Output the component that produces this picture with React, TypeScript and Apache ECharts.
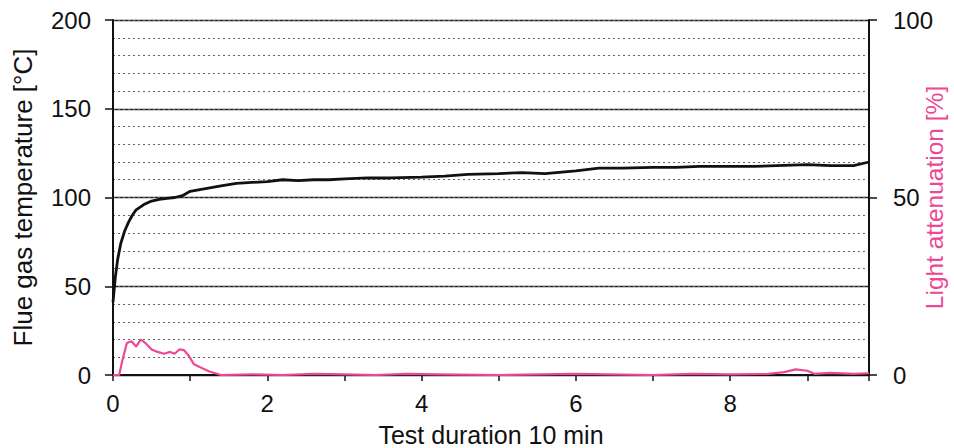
import React, { useEffect, useRef } from "react";
import * as echarts from "echarts";

const tempX = [0, 0.03, 0.06, 0.1, 0.15, 0.2, 0.25, 0.3, 0.4, 0.5, 0.6, 0.7, 0.8, 0.9, 1.0, 1.2, 1.4, 1.6, 1.8, 2.0, 2.2, 2.4, 2.6, 2.8, 3.0, 3.3, 3.6, 4.0, 4.3, 4.6, 5.0, 5.3, 5.6, 6.0, 6.3, 6.6, 7.0, 7.3, 7.6, 8.0, 8.3, 8.6, 9.0, 9.3, 9.6, 9.8];
const tempY = [41, 55, 65, 74, 81, 86, 90, 93, 96, 98, 99, 99.5, 100, 101, 103.5, 105, 106.5, 108, 108.5, 109, 110, 109.5, 110, 110, 110.5, 111, 111, 111.5, 112, 113, 113.5, 114, 113.5, 115, 116.5, 116.5, 117, 117, 117.5, 117.5, 117.5, 118, 118.5, 118, 118, 120];

const lightX = [0, 0.08, 0.12, 0.18, 0.24, 0.3, 0.36, 0.42, 0.5, 0.58, 0.66, 0.74, 0.8, 0.86, 0.92, 0.98, 1.05, 1.15, 1.25, 1.4, 1.8, 2.2, 2.6, 3.0, 3.4, 3.8, 4.2, 5, 6, 7, 7.5, 8, 8.5, 8.7, 8.85, 9.0, 9.1, 9.3, 9.6, 9.8];
const lightY = [0, 0, 4, 9, 9.5, 8, 10, 9, 7.2, 6.5, 6, 6.5, 6, 7.2, 7, 5.5, 3, 2, 1, 0, 0.2, 0, 0.3, 0.2, 0, 0.3, 0.2, 0, 0.3, 0, 0.3, 0.2, 0.3, 0.8, 1.6, 1.2, 0.3, 0.6, 0.3, 0.5];

const xMin = 0;
const xMax = 9.8;
const leftMax = 200;
const rightMax = 100;

const PINK = "#ec4894";
const FONT = "Liberation Sans, Arial, sans-serif";

export default function App() {
  const ref = useRef<HTMLDivElement>(null);
  useEffect(() => {
    if (!ref.current) return;
    const chart = echarts.init(ref.current, undefined, { renderer: "svg" });
    chart.setOption({
      animation: false,
      backgroundColor: "#ffffff",
      grid: {
        left: 113,
        right: 85,
        top: 20,
        bottom: 73,
        containLabel: false,
        outerBoundsMode: "none",
      },
      xAxis: {
        type: "value",
        min: xMin,
        max: xMax,
        interval: 1,
        name: "Test duration 10 min",
        nameLocation: "middle",
        nameGap: 47,
        nameMoveOverlap: false,
        nameTextStyle: { fontSize: 25, color: "#111", fontFamily: FONT },
        axisLine: { show: true, lineStyle: { color: "#111", width: 2 } },
        axisTick: { show: true, inside: false, length: 6, lineStyle: { color: "#111", width: 1.5 } },
        axisLabel: {
          fontSize: 24,
          color: "#111",
          fontFamily: FONT,
          margin: 16,
          formatter: (v: number) => (Number.isInteger(v) && v % 2 === 0 ? String(v) : ""),
        },
        splitLine: { show: false },
      },
      yAxis: [
        {
          type: "value",
          position: "left",
          min: 0,
          max: leftMax,
          interval: 50,
          name: "Flue gas temperature [°C]",
          nameLocation: "middle",
          nameRotate: 90,
          nameGap: 77,
          nameMoveOverlap: false,
          nameTextStyle: { fontSize: 26, color: "#111", fontFamily: FONT },
          axisLine: { show: true, lineStyle: { color: "#111", width: 2 } },
          axisTick: { show: true, inside: false, length: 8, lineStyle: { color: "#111", width: 1.5 } },
          axisLabel: { fontSize: 24, color: "#111", fontFamily: FONT, margin: 22 },
          splitLine: { show: true, lineStyle: { color: "#222", width: 1.3, type: "solid" } },
        },
        {
          type: "value",
          position: "right",
          min: 0,
          max: rightMax,
          interval: 50,
          name: "Light attenuation [%]",
          nameLocation: "middle",
          nameRotate: 90,
          nameGap: 53,
          nameMoveOverlap: false,
          nameTextStyle: { fontSize: 24.5, color: PINK, fontFamily: FONT },
          axisLine: { show: true, lineStyle: { color: "#111", width: 2 } },
          axisTick: { show: true, inside: false, length: 8, lineStyle: { color: "#111", width: 1.5 } },
          axisLabel: { fontSize: 24, color: "#111", fontFamily: FONT, margin: 24 },
          splitLine: { show: false },
        },
        {
          type: "value",
          position: "left",
          min: 0,
          max: leftMax,
          interval: 10,
          axisLine: { show: false },
          axisTick: { show: false },
          axisLabel: { show: false },
          splitLine: { show: true, lineStyle: { color: "#666", width: 1, type: [2, 3] } },
        },
      ],
      series: [
        {
          type: "line",
          name: "Flue gas temperature",
          yAxisIndex: 0,
          data: tempX.map((x, i) => [x, tempY[i]]),
          showSymbol: false,
          symbol: "none",
          lineStyle: { color: "#111", width: 2.8 },
          z: 5,
        },
        {
          type: "line",
          name: "Light attenuation",
          yAxisIndex: 1,
          data: lightX.map((x, i) => [x, lightY[i]]),
          showSymbol: false,
          symbol: "none",
          lineStyle: { color: PINK, width: 2.2 },
          z: 6,
        },
      ],
    });
    return () => chart.dispose();
  }, []);
  return (
    <div
      ref={ref}
      style={{ position: "fixed", left: 0, top: 0, width: 954, height: 448 }}
    />
  );
}
